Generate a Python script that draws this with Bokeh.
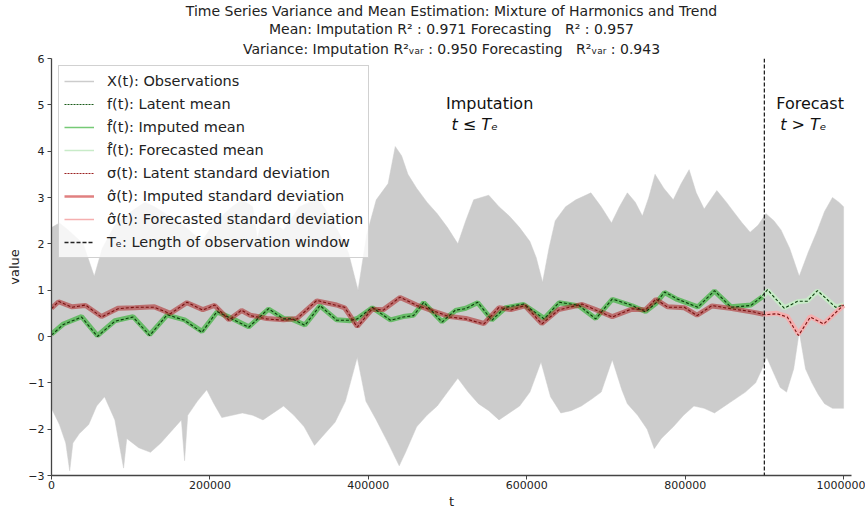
from bokeh.plotting import figure
from bokeh.models import (Range1d, FixedTicker, CustomJSTickFormatter, Span, Label,
                          Legend, LegendItem, Title, LinearAxis)
from bokeh.embed import file_html
from bokeh.resources import INLINE

# ---------------- data (t in thousands) ----------------
env_up_t = [0, 10, 21, 40, 54, 64, 80, 93, 105, 118, 130, 144, 158, 170, 180, 190, 203, 215, 228, 241,
            254, 260, 267, 280, 293, 303, 313, 326, 338, 351, 364, 375, 387, 398, 410, 425, 434, 442, 450,
            461, 474, 487, 500, 513, 523, 533, 552, 565, 578, 591, 604, 612, 620, 628, 636, 649, 662, 681,
            694, 707, 717, 727, 737, 746, 754, 762, 773, 785, 795, 805, 814, 824, 832, 840, 852, 863, 872,
            882, 892, 902, 912, 921, 932, 944, 955, 966, 976, 986, 994, 1000]
env_up_v = [2.35, 2.45, 2.3, 2.0, 1.3, 1.9, 2.4, 2.6, 2.75, 2.9, 2.8, 2.65, 2.5, 2.35, 2.2, 2.05, 2.4, 2.6,
            2.8, 2.95, 2.8, 2.1, 2.65, 2.45, 2.3, 2.55, 2.8, 2.9, 2.95, 2.6, 2.2, 1.8, 1.0, 2.2, 2.95, 3.3,
            4.1, 3.9, 3.5, 3.2, 2.9, 2.65, 2.35, 2.0, 2.5, 2.95, 3.05, 2.8, 2.6, 2.35, 2.05, 1.7, 1.17, 1.9,
            2.5, 2.8, 2.95, 3.1, 2.8, 2.45, 2.8, 3.1, 2.9, 2.6, 3.0, 3.5, 3.2, 2.95, 3.3, 3.6, 3.1, 2.75,
            2.95, 3.15, 2.9, 2.65, 2.45, 2.25, 2.4, 2.65, 2.5, 2.3, 1.9, 1.3, 1.8, 2.25, 2.7, 3.0, 2.9, 2.8]

env_lo_t = [0, 10, 18, 23, 27, 35, 47, 57, 67, 80, 91, 95, 110, 125, 138, 151, 164, 168, 172, 184, 196,
            205, 215, 228, 241, 254, 267, 280, 293, 306, 319, 332, 345, 358, 371, 386, 397, 410, 425, 439,
            447, 461, 474, 487, 500, 513, 526, 539, 552, 565, 578, 591, 604, 618, 630, 643, 656, 669, 682,
            694, 708, 720, 727, 740, 752, 761, 770, 785, 798, 811, 824, 837, 850, 863, 876, 889, 897, 903,
            912, 920, 928, 937, 944, 952, 960, 968, 976, 986, 1000]
env_lo_v = [-1.55, -1.9, -2.3, -2.9, -2.3, -2.1, -1.9, -1.5, -1.3, -1.8, -2.84, -2.2, -2.4, -2.5, -2.3,
            -2.05, -1.8, -2.68, -1.7, -1.4, -1.15, -1.45, -1.75, -1.7, -1.65, -1.7, -1.8, -1.65, -1.5, -1.7,
            -1.95, -2.35, -2.1, -1.85, -1.4, -0.45, -1.4, -1.8, -2.3, -2.79, -2.5, -1.95, -1.7, -1.5, -1.2,
            -0.9, -1.2, -1.45, -1.6, -1.8, -1.65, -1.5, -1.2, -0.55, -1.3, -1.65, -1.6, -1.5, -1.35, -1.2,
            -0.5, -1.15, -1.45, -1.7, -2.0, -2.42, -2.2, -1.95, -1.7, -1.5, -1.55, -1.65, -1.5, -1.35, -1.2,
            -1.0, -0.7, -0.45, -0.8, -1.1, -1.2, -0.7, 0.1, -0.7, -1.0, -1.25, -1.45, -1.55, -1.55]

latent_mean_t = [0, 15, 38, 58, 80, 103, 124, 146, 168, 190, 209, 223, 249, 274, 293, 304, 320, 339, 360,
                 377, 386, 405, 428, 444, 457, 470, 493, 510, 523, 538, 556, 573, 596, 622, 641, 666, 687,
                 708, 733, 750, 763, 774, 790, 816, 837, 858, 883, 896, 904, 925, 942, 954, 967, 990, 1000]
latent_mean_v = [0.03, 0.26, 0.42, 0.0, 0.33, 0.42, 0.02, 0.47, 0.35, 0.09, 0.54, 0.42, 0.2, 0.6, 0.38,
                 0.38, 0.24, 0.67, 0.35, 0.35, 0.38, 0.63, 0.35, 0.42, 0.45, 0.74, 0.31, 0.57, 0.6, 0.74,
                 0.35, 0.63, 0.7, 0.38, 0.74, 0.67, 0.38, 0.81, 0.67, 0.53, 0.72, 0.96, 0.81, 0.63, 0.99,
                 0.63, 0.67, 0.85, 1.01, 0.61, 0.76, 0.76, 0.99, 0.63, 0.68]

imputed_mean_t = [0, 15, 38, 58, 80, 103, 124, 146, 168, 190, 209, 223, 249, 274, 293, 304, 320, 339, 360,
                  377, 386, 405, 428, 444, 457, 470, 493, 510, 523, 538, 556, 573, 596, 622, 641, 666, 687,
                  708, 733, 750, 763, 774, 790, 816, 837, 858, 883, 898]
imputed_mean_v = [0.05, 0.27, 0.43, 0.02, 0.34, 0.43, 0.04, 0.46, 0.36, 0.11, 0.53, 0.43, 0.21, 0.59,
                  0.39, 0.37, 0.25, 0.66, 0.36, 0.34, 0.39, 0.62, 0.36, 0.43, 0.46, 0.73, 0.32, 0.56, 0.61,
                  0.73, 0.36, 0.62, 0.69, 0.39, 0.73, 0.66, 0.39, 0.8, 0.66, 0.54, 0.71, 0.95, 0.8, 0.64,
                  0.98, 0.64, 0.68, 0.86]

forecast_mean_t = [898, 904, 925, 942, 954, 967, 990, 1000]
forecast_mean_v = [0.86, 1.0, 0.62, 0.75, 0.77, 0.98, 0.64, 0.68]

latent_sd_t = [0, 9, 26, 43, 63, 84, 105, 130, 150, 171, 191, 206, 224, 240, 251, 272, 293, 310, 335, 360,
               370, 386, 405, 419, 440, 461, 480, 503, 523, 546, 565, 580, 598, 619, 640, 670, 687, 708, 733,
               750, 763, 778, 799, 815, 834, 857, 887, 899, 916, 929, 943, 958, 975, 1000]
latent_sd_v = [0.6, 0.76, 0.63, 0.68, 0.42, 0.6, 0.63, 0.63, 0.49, 0.74, 0.57, 0.68, 0.35, 0.57, 0.45,
               0.38, 0.35, 0.38, 0.78, 0.67, 0.63, 0.2, 0.6, 0.57, 0.85, 0.67, 0.57, 0.42, 0.38, 0.27, 0.63,
               0.57, 0.67, 0.27, 0.57, 0.7, 0.57, 0.42, 0.6, 0.57, 0.81, 0.63, 0.63, 0.45, 0.67, 0.6, 0.53,
               0.47, 0.49, 0.42, 0.02, 0.42, 0.27, 0.68]

imputed_sd_t = [0, 9, 26, 43, 63, 84, 105, 130, 150, 171, 191, 206, 224, 240, 251, 272, 293, 310, 335, 360,
                370, 386, 405, 419, 440, 461, 480, 503, 523, 546, 565, 580, 598, 619, 640, 670, 687, 708,
                733, 750, 763, 778, 799, 815, 834, 857, 887, 899]
imputed_sd_v = [0.61, 0.75, 0.64, 0.67, 0.43, 0.61, 0.62, 0.64, 0.5, 0.73, 0.58, 0.67, 0.36, 0.56, 0.46,
                0.39, 0.36, 0.39, 0.77, 0.68, 0.62, 0.22, 0.59, 0.58, 0.84, 0.68, 0.56, 0.43, 0.39, 0.28,
                0.62, 0.58, 0.66, 0.28, 0.58, 0.69, 0.58, 0.43, 0.59, 0.58, 0.8, 0.64, 0.62, 0.46, 0.66,
                0.61, 0.52, 0.48]

forecast_sd_t = [899, 916, 929, 943, 958, 975, 1000]
forecast_sd_v = [0.48, 0.5, 0.43, 0.05, 0.43, 0.28, 0.67]

T_e = 900000
x_ticks = [0, 200000, 400000, 600000, 800000, 1000000]
y_ticks = [-3, -2, -1, 0, 1, 2, 3, 4, 5, 6]

K = 1000
def scale(ts):
    return [t * K for t in ts]

NAN = float("nan")
FONT = "DejaVu Sans"
NB = "\u00a0"

p = figure(frame_width=800, frame_height=417, output_backend="svg", toolbar_location=None,
           x_range=Range1d(0, 1010000), y_range=Range1d(-3, 6),
           min_border_left=0, min_border_right=14, min_border_top=0, min_border_bottom=5,
           background_fill_color="white", border_fill_color="white")
p.outline_line_color = None
p.grid.visible = False

# titles (added bottom-up: closest to the frame first)
titles = [("Variance: Imputation R²ᵥₐᵣ : 0.950 Forecasting" + NB * 3 + "R²ᵥₐᵣ : 0.943", 4),
          ("Mean: Imputation R² : 0.971 Forecasting" + NB * 3 + "R² : 0.957", 0),
          ("Time Series Variance and Mean Estimation: Mixture of Harmonics and Trend", 0)]
for txt, stand in titles:
    p.add_layout(Title(text=txt, align="center", text_font=FONT, text_font_size="14px",
                       text_font_style="normal", text_color="#222222", standoff=stand),
                 "above")

# observations envelope
obs_x = scale(env_up_t) + scale(env_lo_t)[::-1]
obs_y = env_up_v + env_lo_v[::-1]
p.patch(obs_x, obs_y, fill_color="#cccccc", line_color="#cccccc", line_width=0.5)

# bands
p.line(scale(imputed_mean_t), imputed_mean_v, line_color="#3cb43c", line_alpha=0.7, line_width=5)
p.line(scale(forecast_mean_t), forecast_mean_v, line_color="#c8ebc8", line_width=5)
p.line(scale(imputed_sd_t), imputed_sd_v, line_color="#b03030", line_alpha=0.6, line_width=5)
p.line(scale(forecast_sd_t), forecast_sd_v, line_color="#f5afaf", line_width=5)

# latent dashed lines
p.line(scale(latent_mean_t), latent_mean_v, line_color="#0b3d0b", line_width=1.1, line_dash="3 2")
p.line(scale(latent_sd_t), latent_sd_v, line_color="#7a1010", line_width=1.1, line_dash="3 2")

p.add_layout(Span(location=T_e, dimension="height", line_color="#222222", line_width=1.3,
                  line_dash="4 2"))

# legend proxies (no visible data)
def proxy(**kw):
    return p.line([NAN], [NAN], **kw)

r_obs = proxy(line_color="#cccccc", line_width=1.5)
r_lm = proxy(line_color="#1a5c1a", line_width=1.2, line_dash="2 1")
r_im = proxy(line_color="#3cb43c", line_alpha=0.7, line_width=1.5)
r_fm = proxy(line_color="#c8ebc8", line_width=1.5)
r_ls = proxy(line_color="#9b2020", line_width=1.2, line_dash="2 1")
r_is = proxy(line_color="#e08080", line_width=2.5)
r_fs = proxy(line_color="#f5afaf", line_width=1.5)
r_te = proxy(line_color="#222222", line_width=1.5, line_dash="4 2")

items = [LegendItem(label="X(t): Observations", renderers=[r_obs]),
         LegendItem(label="f(t): Latent mean", renderers=[r_lm]),
         LegendItem(label="f\u0302(t): Imputed mean", renderers=[r_im]),
         LegendItem(label="f\u0302(t): Forecasted mean", renderers=[r_fm]),
         LegendItem(label="σ(t): Latent standard deviation", renderers=[r_ls]),
         LegendItem(label="σ\u0302(t): Imputed standard deviation", renderers=[r_is]),
         LegendItem(label="σ\u0302(t): Forecasted standard deviation", renderers=[r_fs]),
         LegendItem(label="Tₑ: Length of observation window", renderers=[r_te])]
legend = Legend(items=items, location="top_left", margin=7, padding=5, spacing=3,
                glyph_width=30, glyph_height=20, label_height=20, label_standoff=13,
                label_text_font=FONT, label_text_font_size="14.5px", label_text_color="#222222",
                background_fill_color="white", background_fill_alpha=0.8,
                border_line_color="#cccccc", border_line_alpha=0.9)
p.add_layout(legend, "center")

# region annotations
for x, y, txt, style in [(498000, 5.03, "Imputation", "normal"), (505000, 4.58, "t ≤ Tₑ", "italic"),
                         (915000, 5.03, "Forecast", "normal"), (920000, 4.58, "t > Tₑ", "italic")]:
    p.add_layout(Label(x=x, y=y, text=txt, text_font=FONT, text_font_size="16px",
                       text_font_style=style, text_baseline="middle", text_align="left",
                       text_color="#111111"))

fmt = CustomJSTickFormatter(code="return tick < 0 ? '\u2212' + Math.abs(tick) : tick.toFixed(0);")
for ax, ticks in [(p.xaxis[0], x_ticks), (p.yaxis[0], y_ticks)]:
    ax.ticker = FixedTicker(ticks=ticks)
    ax.formatter = fmt
    ax.minor_tick_line_color = None
    ax.major_tick_out = 4
    ax.major_tick_in = 0
    ax.axis_line_color = "#444444"
    ax.axis_line_width = 1.3
    ax.major_tick_line_color = "#444444"
    ax.major_label_text_font = FONT
    ax.major_label_text_font_size = "11px"
    ax.major_label_text_color = "#222222"
    ax.axis_label_text_font = FONT
    ax.axis_label_text_font_size = "13px"
    ax.axis_label_text_font_style = "normal"
    ax.axis_label_text_color = "#222222"
p.xaxis.axis_label = "t"
p.yaxis.axis_label = "value"
p.xaxis.axis_label_standoff = 2
p.yaxis.axis_label_standoff = 3
p.xaxis.major_label_standoff = 1
p.yaxis.major_label_standoff = 3

# outer spacer axis on the left (blank label only) to keep the frame position
spacer = LinearAxis(ticker=FixedTicker(ticks=[]), axis_line_color=None, major_tick_line_color=None,
                    minor_tick_line_color=None, major_tick_out=0, major_tick_in=0, minor_tick_out=0,
                    major_label_standoff=0, axis_label=NB, axis_label_standoff=0,
                    axis_label_text_font_size="1px", axis_label_text_color="white")
p.add_layout(spacer, "left")

open("out.html", "w").write(file_html(p, INLINE))
